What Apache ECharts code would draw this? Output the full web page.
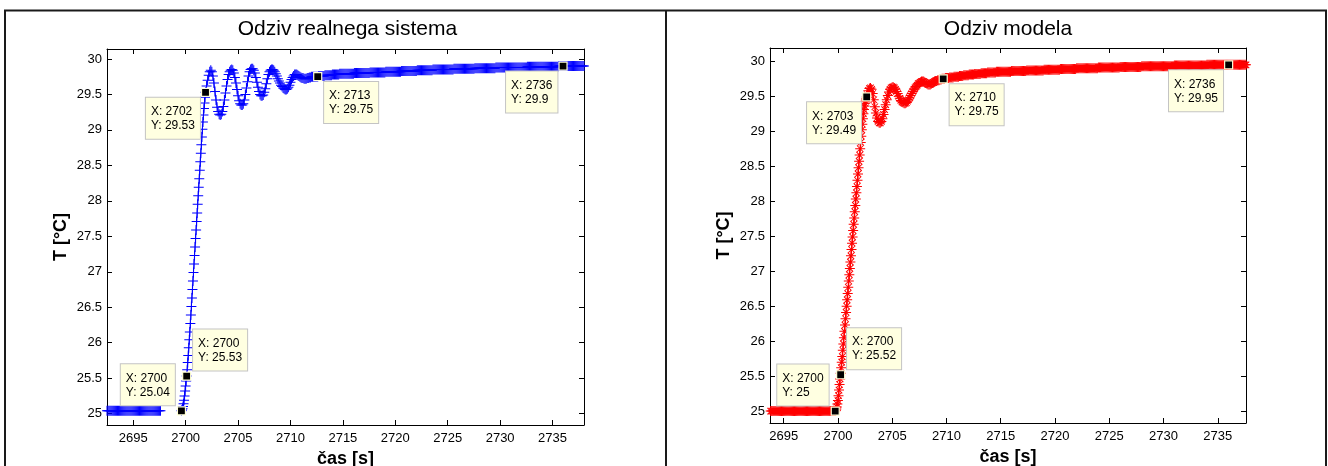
<!DOCTYPE html>
<html><head><meta charset="utf-8">
<script src="https://cdn.jsdelivr.net/npm/echarts@6/dist/echarts.min.js"></script>
<style>html,body{margin:0;padding:0;background:#fff}#c{width:1328px;height:466px}</style>
</head><body><div id="c"></div>
<script>
// ---------- Odziv realnega sistema (blue) ----------
const realBaseStart = 2692.5;   // step 0.1 s
const realBaseTemp = [
25.04,25.04,25.04,25.04,25.04,25.04,25.04,25.04,25.04,25.04,
25.04,25.04,25.04,25.04,25.04,25.04,25.04,25.04,25.04,25.04,
25.04,25.04,25.04,25.04,25.04,25.04,25.04,25.04,25.04,25.04,
25.04,25.04,25.04,25.04,25.04,25.04,25.04,25.04,25.04,25.04,
25.04,25.04,25.04,25.04,25.04,25.04,25.04,25.04,25.04,25.04,
25.04,25.04,'-'];
const realRiseStart = 2699.6;   // step 0.05 s
const realRiseTemp = [
25.04,25.05,25.07,25.10,25.14,25.19,25.25,25.32,25.39,25.46,
25.53,25.62,25.72,25.82,25.93,26.04,26.15,26.27,26.39,26.51,
26.63,26.75,26.87,26.99,27.11,27.23,27.35,27.47,27.59,27.71,
27.83,27.95,28.07,28.19,28.31,28.43,28.55,28.67,28.79,28.90,
29.01,29.11,29.21,29.30,29.38,29.46,29.53];
const realSettleStart = 2702.0; // step 0.1 s
const realSettleTemp = [
29.62,29.70,29.77,29.82,29.84,29.82,29.76,29.66,29.54,29.42,
29.32,29.26,29.22,29.21,29.22,29.26,29.33,29.42,29.52,29.62,
29.71,29.78,29.82,29.84,29.85,29.84,29.80,29.74,29.66,29.57,
29.48,29.41,29.37,29.35,29.35,29.37,29.42,29.50,29.59,29.68,
29.76,29.82,29.85,29.86,29.86,29.84,29.80,29.74,29.67,29.60,
29.54,29.50,29.48,29.48,29.49,29.53,29.58,29.65,29.72,29.78,
29.82,29.84,29.85,29.85,29.84,29.82,29.79,29.76,29.72,29.69,
29.66,29.63,29.61,29.59,29.58,29.57,29.57,29.58,29.60,29.63,
29.67,29.71,29.74,29.76,29.78,29.78,29.78,29.77,29.76,29.75,
29.74,29.73,29.73,29.72,29.72,29.72,29.73,29.73,29.74,29.74,
29.75,
29.75,29.75,29.75,29.75,29.75,29.75,29.76,29.76,29.76,29.76,
29.76,29.76,29.77,29.77,29.77,29.77,29.77,29.77,29.77,29.78,
29.78,29.78,29.78,29.78,29.78,29.78,29.79,29.79,29.79,29.79,
29.79,29.79,29.79,29.79,29.79,29.79,29.79,29.79,29.79,29.79,
29.80,29.80,29.80,29.80,29.80,29.80,29.80,29.80,29.80,29.80,
29.80,29.80,29.80,29.80,29.80,29.81,29.81,29.81,29.81,29.81,
29.81,29.81,29.81,29.81,29.81,29.81,29.81,29.81,29.81,29.81,
29.82,29.82,29.82,29.82,29.82,29.82,29.82,29.82,29.82,29.82,
29.82,29.82,29.82,29.82,29.82,29.83,29.83,29.83,29.83,29.83,
29.83,29.83,29.83,29.83,29.83,29.83,29.83,29.83,29.83,29.83,
29.84,29.84,29.84,29.84,29.84,29.84,29.84,29.84,29.84,29.84,
29.84,29.84,29.84,29.84,29.84,29.85,29.85,29.85,29.85,29.85,
29.85,29.85,29.85,29.85,29.85,29.85,29.85,29.85,29.85,29.85,
29.85,29.85,29.85,29.85,29.85,29.86,29.86,29.86,29.86,29.86,
29.86,29.86,29.86,29.86,29.86,29.86,29.86,29.86,29.86,29.86,
29.86,29.86,29.86,29.86,29.86,29.87,29.87,29.87,29.87,29.87,
29.87,29.87,29.87,29.87,29.87,29.87,29.87,29.87,29.87,29.87,
29.87,29.87,29.87,29.87,29.87,29.88,29.88,29.88,29.88,29.88,
29.88,29.88,29.88,29.88,29.88,29.88,29.88,29.88,29.88,29.88,
29.88,29.88,29.88,29.88,29.88,29.88,29.88,29.88,29.88,29.88,
29.88,29.88,29.88,29.88,29.88,29.89,29.89,29.89,29.89,29.89,
29.89,29.89,29.89,29.89,29.89,29.89,29.89,29.89,29.89,29.89,
29.89,29.89,29.89,29.89,29.89,29.89,29.89,29.89,29.89,29.89,
29.89,29.89,29.89,29.89,29.89,29.90,29.90,29.90,29.90,29.90,
29.90,29.90,29.90,29.90,29.90,29.90,29.90,29.90,29.90,29.90,
29.90,29.90,29.90,29.90,29.90,29.90,29.90,29.90,29.90,29.90];
const realTipX = [2699.6, 2700.1, 2701.9, 2712.6, 2736];
const realTipY = [25.04, 25.53, 29.53, 29.75, 29.9];

// ---------- Odziv modela (red) ----------
const modelBaseStart = 2693.8;  // step 0.1 s
const modelBaseTemp = [
25,25,25,25,25,25,25,25,25,25, 25,25,25,25,25,25,25,25,25,25,
25,25,25,25,25,25,25,25,25,25, 25,25,25,25,25,25,25,25,25,25,
25,25,25,25,25,25,25,25,25,25, 25,25,25,25,25,25,25,25,25,25];
const modelRiseStart = 2699.75; // step 0.05 s
const modelRiseTemp = [
25.00,25.01,25.03,25.06,25.10,25.15,25.22,25.30,25.38,25.46,
25.54,25.62,25.70,25.78,25.87,25.96,26.05,26.14,26.23,26.32,
26.41,26.50,26.59,26.68,26.77,26.86,26.95,27.04,27.13,27.22,
27.31,27.40,27.49,27.58,27.67,27.76,27.85,27.94,28.03,28.12,
28.21,28.30,28.39,28.48,28.57,28.66,28.75,28.84,28.93,29.02,
29.10,29.18,29.25,29.31,29.36,29.40,29.43,29.46,29.49];
const modelSettleStart = 2702.7; // step 0.1 s
const modelSettleTemp = [
29.52,29.58,29.61,
29.62,29.60,29.54,29.45,29.35,29.26,29.19,29.14,29.12,29.12,
29.14,29.18,29.24,29.31,29.38,29.45,29.51,29.56,29.60,29.62,
29.63,29.63,29.62,29.60,29.57,29.54,29.50,29.47,29.44,29.42,
29.41,29.40,29.40,29.41,29.43,29.45,29.48,29.51,29.54,29.57,
29.60,29.62,29.64,29.66,29.68,29.69,29.70,29.71,29.71,29.71,
29.70,29.69,29.68,29.67,29.67,29.67,29.68,29.69,29.70,29.71,
29.72,29.72,29.73,29.73,29.74,29.74,29.75,29.75,
29.75,29.76,
29.76,29.76,29.76,29.77,29.77,29.77,29.77,29.78,29.78,29.78,
29.78,29.78,29.79,29.79,29.79,29.79,29.80,29.80,29.80,29.80,
29.80,29.81,29.81,29.81,29.81,29.81,29.82,29.82,29.82,29.82,
29.82,29.82,29.83,29.83,29.83,29.83,29.83,29.83,29.84,29.84,
29.84,29.84,29.84,29.84,29.84,29.84,29.85,29.85,29.85,29.85,
29.85,29.85,29.85,29.85,29.85,29.85,29.85,29.85,29.85,29.85,
29.86,29.86,29.86,29.86,29.86,29.86,29.86,29.86,29.86,29.86,
29.86,29.86,29.86,29.86,29.87,29.87,29.87,29.87,29.87,29.87,
29.87,29.87,29.87,29.87,29.87,29.87,29.87,29.87,29.87,29.87,
29.88,29.88,29.88,29.88,29.88,29.88,29.88,29.88,29.88,29.88,
29.88,29.88,29.88,29.88,29.88,29.89,29.89,29.89,29.89,29.89,
29.89,29.89,29.89,29.89,29.89,29.89,29.89,29.89,29.89,29.89,
29.90,29.90,29.90,29.90,29.90,29.90,29.90,29.90,29.90,29.90,
29.90,29.90,29.90,29.90,29.90,29.90,29.90,29.90,29.90,29.90,
29.91,29.91,29.91,29.91,29.91,29.91,29.91,29.91,29.91,29.91,
29.91,29.91,29.91,29.91,29.91,29.91,29.91,29.91,29.91,29.91,
29.92,29.92,29.92,29.92,29.92,29.92,29.92,29.92,29.92,29.92,
29.92,29.92,29.92,29.92,29.92,29.92,29.92,29.92,29.92,29.92,
29.93,29.93,29.93,29.93,29.93,29.93,29.93,29.93,29.93,29.93,
29.93,29.93,29.93,29.93,29.93,29.93,29.93,29.93,29.93,29.93,
29.93,29.93,29.93,29.93,29.93,29.93,29.93,29.93,29.93,29.93,
29.94,29.94,29.94,29.94,29.94,29.94,29.94,29.94,29.94,29.94,
29.94,29.94,29.94,29.94,29.94,29.94,29.94,29.94,29.94,29.94,
29.94,29.94,29.94,29.94,29.94,29.94,29.94,29.94,29.94,29.94,
29.95,29.95,29.95,29.95,29.95,29.95,29.95,29.95,29.95,29.95,
29.95,29.95,29.95,29.95,29.95,29.95,29.95,29.95,29.95,29.95,
29.95,29.95,29.95,29.95,29.95,29.95,29.95,29.95,29.95,29.95,
29.95,29.95,29.95,29.95,29.95,29.95,29.95];
const modelTipX = [2699.75, 2700.25, 2702.65, 2709.7, 2736];
const modelTipY = [25, 25.52, 29.49, 29.75, 29.95];

// ---------- axis ranges / labels ----------
const realXRange = [2692.5, 2738];
const realYRange = [24.84, 30.14];
const modelXRange = [2693.74, 2737.6];
const modelYRange = [24.83, 30.19];
const titles = ['Odziv realnega sistema', 'Odziv modela'];
const xName = 'čas [s]';
const yName = 'T [°C]';

// ---------- build ----------
function seg(start, step, vals) {
  return vals.map((v, i) => [Math.round((start + i * step) * 1000) / 1000, v]);
}
const realData = [].concat(seg(realBaseStart, 0.1, realBaseTemp), seg(realRiseStart, 0.05, realRiseTemp), seg(realSettleStart, 0.1, realSettleTemp));
const modelData = [].concat(seg(modelBaseStart, 0.1, modelBaseTemp), seg(modelRiseStart, 0.05, modelRiseTemp), seg(modelSettleStart, 0.1, modelSettleTemp));

const FONT = '"Liberation Sans", Arial, sans-serif';
const tipPlace = {
  ul: { position: [-2, -1], align: 'right', verticalAlign: 'bottom' },
  ur: { position: [11, -1], align: 'left', verticalAlign: 'bottom' },
  ll: { position: [-1, 10], align: 'right', verticalAlign: 'top' },
  lr: { position: [11, 10], align: 'left', verticalAlign: 'top' }
};
const placeOrder = ['ul', 'ur', 'll', 'lr', 'll'];
function tips(xs, ys) {
  return xs.map((x, i) => {
    const p = tipPlace[placeOrder[i]];
    return {
      coord: [x, ys[i]],
      label: {
        show: true,
        formatter: '{t|X: ' + Math.round(x) + '}\n{t|Y: ' + ys[i] + '}',
        position: p.position, align: p.align, verticalAlign: p.verticalAlign,
        backgroundColor: '#ffffe1', borderColor: '#c4c4c4', borderWidth: 1,
        padding: [7, 5, 6, 5], lineHeight: 14, fontSize: 12, fontFamily: FONT, color: '#000',
        rich: { t: { align: 'left', fontSize: 12, lineHeight: 14, fontFamily: FONT, color: '#000' } }
      }
    };
  });
}
const plusPath = 'path://M4.5,0h1v10h-1z M0,4.5h10v1h-10z';
const starPath = 'path://M4.5,0h1v10h-1z M0,4.5h10v1h-10z M1.4,2.1L2.1,1.4L8.6,7.9L7.9,8.6Z M7.9,1.4L8.6,2.1L2.1,8.6L1.4,7.9Z';

function xAxes(grid, range) {
  const base = {
    gridIndex: grid, type: 'value', min: range[0], max: range[1], splitNumber: 9,
    axisLine: { show: true, onZero: false, lineStyle: { color: '#000', width: 1 } },
    axisTick: { show: true, inside: true, length: 5, lineStyle: { color: '#000' } },
    splitLine: { show: false }
  };
  return [
    Object.assign({}, base, {
      position: 'bottom',
      axisLabel: { show: true, showMinLabel: false, showMaxLabel: false, color: '#000', fontSize: 13, fontFamily: FONT, margin: 7, formatter: v => String(v) },
      name: xName, nameLocation: 'middle', nameGap: 25,
      nameTextStyle: { color: '#000', fontSize: 18, fontWeight: 'bold', fontFamily: FONT }
    }),
    Object.assign({}, base, { position: 'top', axisLabel: { show: false } })
  ];
}
function yAxes(grid, range) {
  const base = {
    gridIndex: grid, type: 'value', min: range[0], max: range[1], splitNumber: 11,
    axisLine: { show: true, onZero: false, lineStyle: { color: '#000', width: 1 } },
    axisTick: { show: true, inside: true, length: 5, lineStyle: { color: '#000' } },
    splitLine: { show: false }
  };
  return [
    Object.assign({}, base, {
      position: 'left',
      axisLabel: { show: true, showMinLabel: false, showMaxLabel: false, color: '#000', fontSize: 13, fontFamily: FONT, margin: 5, formatter: v => String(v) },
      name: yName, nameLocation: 'middle', nameGap: 37, nameRotate: 90,
      nameTextStyle: { color: '#000', fontSize: 18, fontWeight: 'bold', fontFamily: FONT }
    }),
    Object.assign({}, base, { position: 'right', axisLabel: { show: false } })
  ];
}
function lineSeries(xi, yi, data, color, symbol, size, tipsData) {
  return {
    type: 'line', xAxisIndex: xi, yAxisIndex: yi, data: data,
    symbol: symbol, symbolSize: size, showSymbol: true, showAllSymbol: true,
    itemStyle: { color: color, borderWidth: 0 },
    lineStyle: { color: color, width: 1 },
    clip: false, silent: true, animation: false,
    emphasis: { disabled: true },
    markPoint: {
      symbol: 'rect', symbolSize: 8, silent: true, animation: false,
      itemStyle: { color: '#000', borderColor: '#ffffd8', borderWidth: 1.2 },
      data: tipsData
    }
  };
}

const chart = echarts.init(document.getElementById('c'), null, { renderer: 'canvas' });
chart.setOption({
  animation: false,
  backgroundColor: '#fff',
  grid: [
    { left: 107, top: 49, width: 477, height: 376, containLabel: false, outerBoundsMode: 'none' },
    { left: 770, top: 48, width: 476, height: 375, containLabel: false, outerBoundsMode: 'none' }
  ],
  xAxis: [].concat(xAxes(0, realXRange), xAxes(1, modelXRange)),
  yAxis: [].concat(yAxes(0, realYRange), yAxes(1, modelYRange)),
  series: [
    lineSeries(0, 0, realData, '#0000ff', plusPath, 10, tips(realTipX, realTipY)),
    lineSeries(2, 2, modelData, '#ff0000', starPath, 10, tips(modelTipX, modelTipY))
  ],
  graphic: [
    { type: 'line', shape: { x1: 5, y1: 470, x2: 5, y2: 10.5 }, style: { stroke: '#1a1a1a', lineWidth: 2 } },
    { type: 'line', shape: { x1: 4, y1: 10.5, x2: 1327, y2: 10.5 }, style: { stroke: '#1a1a1a', lineWidth: 2 } },
    { type: 'line', shape: { x1: 1326, y1: 10.5, x2: 1326, y2: 470 }, style: { stroke: '#1a1a1a', lineWidth: 2 } },
    { type: 'line', shape: { x1: 666, y1: 10.5, x2: 666, y2: 470 }, style: { stroke: '#1a1a1a', lineWidth: 2 } },
    { type: 'text', x: 347.5, y: 29, style: { text: titles[0], font: '21px ' + FONT, fill: '#000', textAlign: 'center', textVerticalAlign: 'middle', align: 'center', verticalAlign: 'middle' } },
    { type: 'text', x: 1008, y: 29, style: { text: titles[1], font: '21px ' + FONT, fill: '#000', textAlign: 'center', textVerticalAlign: 'middle', align: 'center', verticalAlign: 'middle' } }
  ]
});
</script></body></html>
